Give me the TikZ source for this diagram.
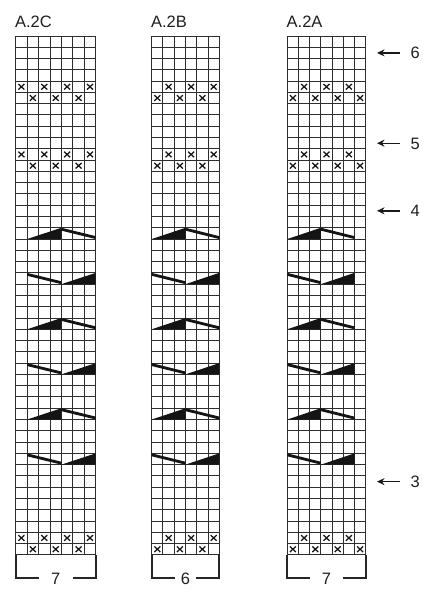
\documentclass[tikz,border=0pt]{standalone}
\usepackage{fontspec}
\setmainfont{Liberation Sans}
\usetikzlibrary{arrows.meta}
\tikzset{
  gridline/.style={draw=black!82, line width=0.95pt},
  xmark/.style={draw=black!92, line width=1.25pt},
  knit/.style={fill=black!92, draw=none},
  lbl/.style={font=\fontsize{16.5}{19}\selectfont, text=black!88, inner sep=0pt},
  bracketline/.style={draw=black!85, line width=1.7pt, line join=miter},
  arr/.style={draw=black!90, line width=1.4pt, -{Stealth[length=7.5pt,width=7pt]}},
}
% #1 name, #2 left, #3 ncols, #4 cell width, #5 parity, #6 first shape col, #7 title
\newcommand\mychart[7]{%
  \pgfmathsetmacro\R{#2+#3*#4}
  \pgfmathtruncatemacro\lastc{#3-1}
  \pgfmathsetmacro\xa{#2+#6*#4}
  \pgfmathsetmacro\xb{\xa+3*#4}
  \pgfmathsetmacro\xc{\xa+6*#4}
  \pgfmathsetmacro\mid{#2+#3*#4/2}
  \foreach \i in {0,...,#3} \draw[gridline] ({#2+\i*#4},36) -- ({#2+\i*#4},554.88);
  \foreach \j in {0,...,46} \draw[gridline] (#2,{36+\j*11.28}) -- (\R,{36+\j*11.28});
  \foreach \r in {4,10,44} {
    \foreach \c in {0,...,\lastc} {
      \pgfmathtruncatemacro\rr{\r+mod(\c+#5,2)}
      \draw[xmark, shift={({#2+(\c+0.5)*#4},{36+(\rr+0.5)*11.28})}]
        (-3,-2.8) -- (3,2.8) (-3,2.8) -- (3,-2.8);
    }
  }
  \foreach \r in {17,25,33} {
    \pgfmathsetmacro\T{36+\r*11.28}
    \pgfmathsetmacro\B{\T+11.28}
    \fill[knit] (\xa,\B) -- (\xb,\T) -- (\xb,\B) -- cycle;
    \fill[knit] (\xb,\T) -- (\xc,{\B-2.9}) -- (\xc,\B) -- (\xb,{\T+2.9}) -- cycle;
  }
  \foreach \r in {21,29,37} {
    \pgfmathsetmacro\T{36+\r*11.28}
    \pgfmathsetmacro\B{\T+11.28}
    \fill[knit] (\xa,\T) -- (\xb,{\B-2.9}) -- (\xb,\B) -- (\xa,{\T+2.9}) -- cycle;
    \fill[knit] (\xb,\B) -- (\xc,\T) -- (\xc,\B) -- cycle;
  }
  \node[lbl, anchor=base west] (#1title) at ({#2-0.8},27.2) {#7};
  \draw[bracketline] (#2,554.88) -- (#2,577.7) -- ({#2+23},577.7);
  \draw[bracketline] ({\R-23},577.7) -- (\R,577.7) -- (\R,554.88);
  \node[lbl, anchor=base] (#1count) at (\mid,584.6) {#3};
}
\begin{document}
\begin{tikzpicture}[x=1pt,y=-1pt]
  \useasboundingbox (0,0) rectangle (429,600);
  \fill[white] (0,0) rectangle (429,600);
  \mychart{c}{15.7}{7}{11.43}{0}{1}{A.2C}
  \mychart{b}{151.7}{6}{11.27}{1}{0}{A.2B}
  \mychart{a}{287.3}{7}{11.2}{1}{0}{A.2A}
  % row arrows
  \foreach \n/\y in {6/52.9,5/143.2,4/210.8,3/481.6} {
    \node[lbl, anchor=base] (n\n) at (415.3,{\y+5.9}) {\n};
    \coordinate (s\n) at (400,\y);
    \coordinate (e\n) at (377,\y);
    \draw[arr] (s\n) -- (e\n);
  }
\end{tikzpicture}
\end{document}
